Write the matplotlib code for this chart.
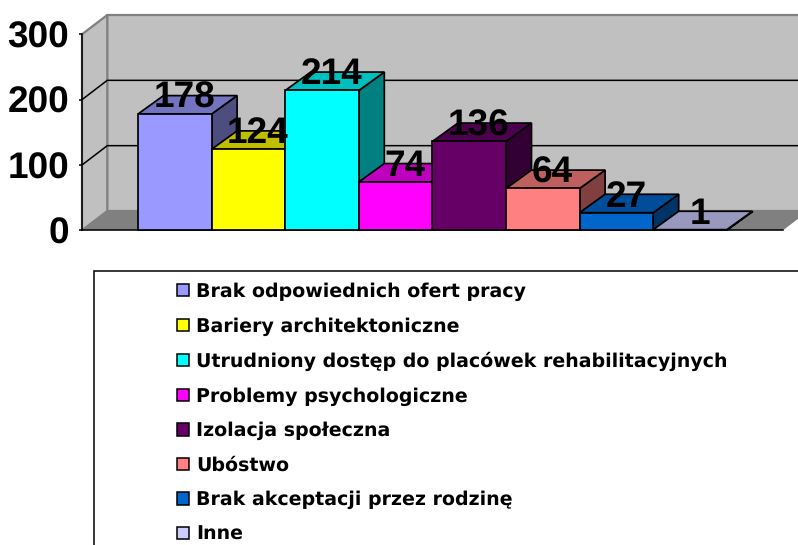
import matplotlib
matplotlib.use("Agg")
import matplotlib.pyplot as plt
from matplotlib.patches import Polygon, Rectangle, Patch
from matplotlib.colors import to_rgb

categories = ["Brak odpowiednich ofert pracy", "Bariery architektoniczne",
              "Utrudniony dostęp do placówek rehabilitacyjnych", "Problemy psychologiczne",
              "Izolacja społeczna", "Ubóstwo", "Brak akceptacji przez rodzinę", "Inne"]
values = [178, 124, 214, 74, 136, 64, 27, 1]
colors = ["#9999FF", "#FFFF00", "#00FFFF", "#FF00FF", "#660066", "#FF8080", "#0066CC", "#CCCCFF"]
yticks = [0, 100, 200, 300]

W, H = 798, 545
PX = 0.72  # points per pixel at dpi 100
BIG = 26.3
plt.rcParams["font.family"] = ["Liberation Sans", "DejaVu Sans"]
plt.rcParams["font.weight"] = "bold"
plt.rcParams["text.hinting"] = "no_hinting"
plt.rcParams["text.hinting_factor"] = 1

fig = plt.figure(figsize=(W / 100, H / 100), dpi=100, facecolor="white")
ax_l, ax_r, ax_b, ax_t = 82, 798, 230.3, 34.3
ax = fig.add_axes([ax_l / W, 1 - ax_b / H, (ax_r - ax_l) / W, (ax_b - ax_t) / H])
ax.patch.set_visible(False)

bar_px = 73.6
first_bar = 138
ax.set_ylim(0, 300)
ax.set_xlim((ax_l - first_bar) / bar_px, (ax_r - first_bar) / bar_px)
py = (ax_b - ax_t) / 300  # pixels per value unit


def ux(px):
    return px / bar_px


def uy(px):
    return px / py


# Walls and floor
wdx, wdy = ux(25.3), uy(19.3)
x0 = ax.get_xlim()[0]
xend = ux(783 - first_bar)
far = xend + wdx
wall_kw = dict(clip_on=False, zorder=1, linewidth=1.6, edgecolor="#808080")
ax.add_patch(Polygon([(x0, 0), (x0 + wdx, wdy), (far, wdy), (xend, 0)], facecolor="#808080",
                     edgecolor="none", clip_on=False, zorder=1))
ax.add_patch(Polygon([(x0 + wdx, wdy), (far, wdy), (far, 300 + wdy), (x0 + wdx, 300 + wdy)],
                     facecolor="#C0C0C0", **wall_kw))
ax.add_patch(Polygon([(x0, 0), (x0 + wdx, wdy), (x0 + wdx, 300 + wdy), (x0, 300)],
                     facecolor="#C0C0C0", **wall_kw))
for t in yticks[1:-1]:
    ax.plot([x0, x0 + wdx, far], [t, t + wdy, t + wdy], color="black", lw=1.1, clip_on=False,
            zorder=2, solid_capstyle="butt", solid_joinstyle="miter")

# Bars
bdx, bdy = ux(25.5), uy(18.4)
for i, (v, c) in enumerate(zip(values, colors)):
    rgb = to_rgb(c)
    top = tuple(k * 0.75 for k in rgb)
    side = tuple(k * 0.5 for k in rgb)
    z = 3 + i
    ekw = dict(edgecolor="black", linewidth=1.25, clip_on=False, zorder=z, joinstyle="miter")
    ax.add_patch(Polygon([(i + 1, 0), (i + 1 + bdx, bdy), (i + 1 + bdx, v + bdy), (i + 1, v)],
                         facecolor=side, **ekw))
    ax.add_patch(Polygon([(i, v), (i + bdx, v + bdy), (i + 1 + bdx, v + bdy), (i + 1, v)],
                         facecolor=top, **ekw))
    ax.bar(i, v, width=1, align="edge", color=c, edgecolor="black", linewidth=1.25,
           clip_on=False, zorder=z + 0.5)
for i, v in enumerate(values):
    ax.annotate(str(v), (i + 0.5, v), xytext=(9.6 * PX, 6 * PX), textcoords="offset points",
                ha="center", va="baseline", fontsize=BIG, fontweight="bold", color="black",
                zorder=30, annotation_clip=False)

# Axes lines
for s in ("top", "right", "bottom"):
    ax.spines[s].set_visible(False)
ax.spines["left"].set_linewidth(1.1)
ax.spines["left"].set_zorder(2.5)
ax.plot([x0, xend], [0, 0], color="black", lw=1.1, clip_on=False, zorder=2.5)
ax.set_xticks([])
ax.set_yticks(yticks)
ax.tick_params(axis="y", length=3 * PX, width=1.1, pad=10 * PX, labelsize=BIG)
for lab in ax.get_yticklabels():
    lab.set_fontweight("bold")

# Legend box (runs off the canvas on the right and the bottom)
fig.add_artist(Rectangle((94 / W, -0.1), 1.0, 1 - 271 / H + 0.1, transform=fig.transFigure,
                         facecolor="white", edgecolor="black", linewidth=1.1, zorder=0.5))
handles = [Patch(facecolor=c, edgecolor="black", linewidth=1.1) for c in colors]
LEG = 13.55
leg = fig.legend(handles, categories, loc="upper left",
                 bbox_to_anchor=(177 / W, 1 - 282.5 / H), frameon=False,
                 prop={"family": "DejaVu Sans", "weight": "bold", "size": LEG},
                 handlelength=0.62, handleheight=0.62, handletextpad=0.4,
                 labelspacing=0.0, borderpad=0, borderaxespad=0)
leg.set_zorder(1)
# row pitch of the reference legend
leg._legend_box.get_children()[1].get_children()[0].sep = 34.6 * PX - 13.35
fig.savefig("out.png", dpi=100)
